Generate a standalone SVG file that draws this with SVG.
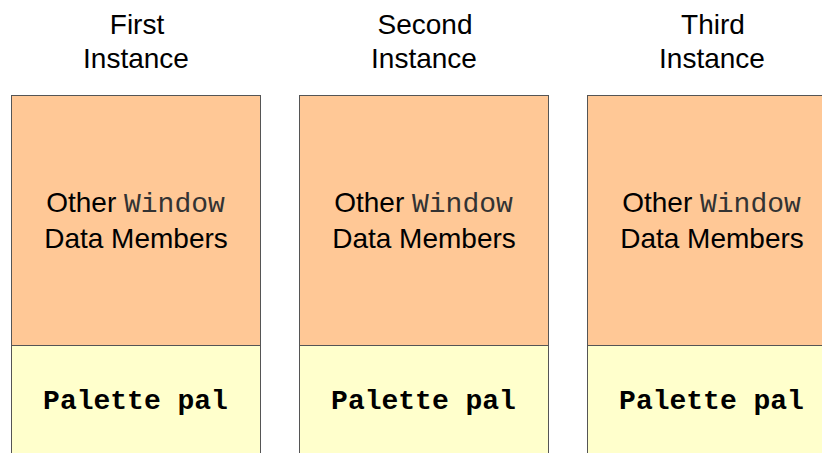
<svg xmlns="http://www.w3.org/2000/svg" width="822" height="453" viewBox="0 0 822 453">
<style>
.top{fill:#FFC896;stroke:#555;stroke-width:1}
.bot{fill:#FFFFCC;stroke:#555;stroke-width:1}
.t{font-family:"Liberation Sans",Arial,sans-serif;font-size:28px;fill:#000;text-anchor:middle}
.m{font-family:"Liberation Mono","Courier New",monospace}
.b{font-family:"Liberation Mono","Courier New",monospace;font-weight:bold;font-size:28px;fill:#000;text-anchor:middle}
</style>
<rect width="822" height="453" fill="#fff"/>
<g id="inst1">
<text class="t" x="137" y="34">First</text>
<text class="t" x="136" y="68">Instance</text>
<rect class="top" x="11.5" y="95.5" width="249" height="250"/>
<rect class="bot" x="11.5" y="345.5" width="249" height="120"/>
<text class="t" x="135.5" y="212">Other <tspan class="m" fill="#333">Window</tspan></text>
<text class="t" x="136" y="248">Data Members</text>
<text class="b" x="135.5" y="409">Palette pal</text>
</g>
<g id="inst2">
<text class="t" x="425" y="34">Second</text>
<text class="t" x="424" y="68">Instance</text>
<rect class="top" x="299.5" y="95.5" width="249" height="250"/>
<rect class="bot" x="299.5" y="345.5" width="249" height="120"/>
<text class="t" x="423.5" y="212">Other <tspan class="m" fill="#333">Window</tspan></text>
<text class="t" x="424" y="248">Data Members</text>
<text class="b" x="423.5" y="409">Palette pal</text>
</g>
<g id="inst3">
<text class="t" x="713" y="34">Third</text>
<text class="t" x="712" y="68">Instance</text>
<rect class="top" x="587.5" y="95.5" width="249" height="250"/>
<rect class="bot" x="587.5" y="345.5" width="249" height="120"/>
<text class="t" x="711.5" y="212">Other <tspan class="m" fill="#333">Window</tspan></text>
<text class="t" x="712" y="248">Data Members</text>
<text class="b" x="711.5" y="409">Palette pal</text>
</g>
<g id="connectors"></g>
</svg>
